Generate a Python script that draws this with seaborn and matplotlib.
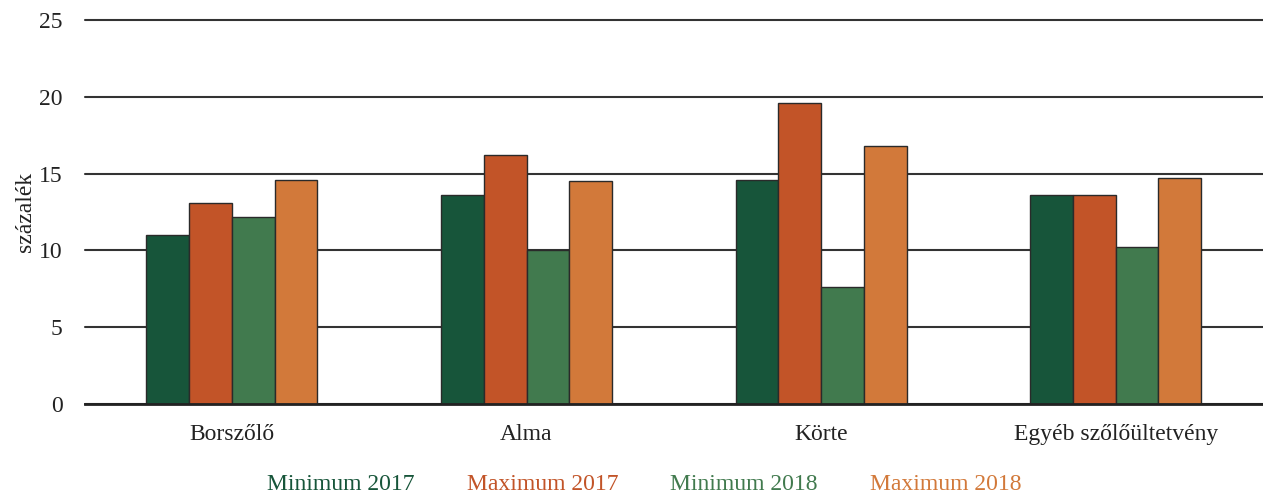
import pandas as pd
import matplotlib.pyplot as plt
import seaborn as sns

# Data
categories = ['Borszőlő', 'Alma', 'Körte', 'Egyéb szőlőültetvény']
series = ['Minimum 2017', 'Maximum 2017', 'Minimum 2018', 'Maximum 2018']
min_2017 = [11.0, 13.6, 14.6, 13.6]
max_2017 = [13.1, 16.2, 19.6, 13.6]
min_2018 = [12.2, 10.0, 7.6, 10.2]
max_2018 = [14.6, 14.5, 16.8, 14.7]
colors = ['#17553a', '#c25428', '#417a4e', '#d2793a']

df = pd.DataFrame({
    'kategoria': categories * 4,
    'sorozat': [s for s in series for _ in categories],
    'ertek': min_2017 + max_2017 + min_2018 + max_2018,
})

sns.set_theme(style='white')
plt.rcParams['font.family'] = ['Liberation Serif', 'DejaVu Serif']

fig, ax = plt.subplots(figsize=(12.63, 4.97), dpi=100)
sns.barplot(data=df, x='kategoria', y='ertek', hue='sorozat', order=categories,
            hue_order=series, palette=colors, width=0.58, edgecolor='#2a2a2a',
            linewidth=1.0, saturation=1, ax=ax, legend=True)

ax.set_ylim(0, 25)
ax.set_xlim(-0.5, 3.5)
ax.set_yticks([0, 5, 10, 15, 20, 25])
ax.yaxis.grid(True, color='#333333', linewidth=1.5)
for gl in ax.get_ygridlines():
    gl.set_clip_on(False)
ax.set_axisbelow(True)
for side in ['left', 'right', 'top']:
    ax.spines[side].set_visible(False)
ax.spines['bottom'].set_color('#222222')
ax.spines['bottom'].set_linewidth(2)
ax.tick_params(axis='both', length=0, labelsize=17, colors='#222222')
ax.tick_params(axis='y', pad=16)
ax.tick_params(axis='x', pad=14)
ax.set_xlabel('')
ax.set_ylabel('százalék', fontsize=17, color='#222222', labelpad=2)

leg = ax.legend(loc='upper center', bbox_to_anchor=(0.475, -0.125), ncol=4,
                frameon=False, fontsize=17, handlelength=0, handletextpad=0,
                columnspacing=2.2)
for h in leg.legend_handles:
    h.set_visible(False)
for txt, c in zip(leg.get_texts(), colors):
    txt.set_color(c)

fig.subplots_adjust(left=0.067, right=1.0, top=0.96, bottom=0.187)
plt.savefig('out.png', dpi=100)
plt.close()
